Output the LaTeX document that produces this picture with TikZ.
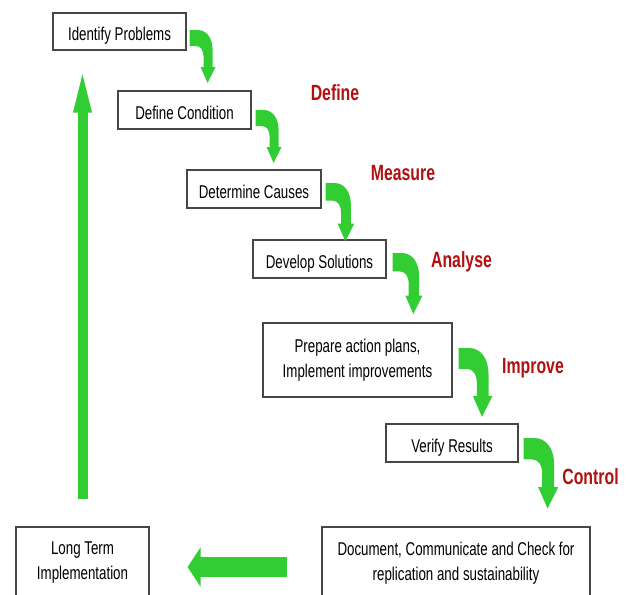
\documentclass[tikz,border=0pt]{standalone}
\usepackage{fontspec}
\setmainfont{Liberation Sans}[FakeStretch=0.72]
\usetikzlibrary{arrows.meta,calc}
\definecolor{arrowgreen}{RGB}{50,205,50}
\definecolor{phasered}{RGB}{176,16,16}
\definecolor{boxgray}{RGB}{70,70,70}
\tikzset{
    bendarrow/.pic={
        \fill[arrowgreen] (0,0) -- (8,0) .. controls (17,0) and (23,8) .. (23,20) -- (23,37) -- (26,37)
            -- (18,53) -- (11,37) -- (14,37) -- (14,27) .. controls (14,20) and (11,16) .. (6,16) -- (0,16) -- cycle;
    }
}
\begin{document}
\begin{tikzpicture}[x=1pt, y=-1pt,
        stepbox/.style={draw=boxgray, line width=1.2pt, fill=white, inner sep=0pt, align=center,
            font=\fontsize{18.5}{25}\selectfont},
        onerow/.style={text height=22pt, text depth=3.8pt},
        phase/.style={anchor=base, text=phasered, font=\fontsize{22}{26}\selectfont\bfseries},
        uparrow/.style={draw=arrowgreen, line width=10pt, -{Triangle[length=54pt, width=15pt]}},
        backarrow/.style={draw=arrowgreen, line width=20pt, -{Triangle[length=13pt, width=39pt]}}]
    \useasboundingbox (0,0) rectangle (630,595);

    \node[stepbox, onerow, minimum width=133, minimum height=37] at (119.5, 31.5) (ip)  {Identify Problems};
    \node[stepbox, onerow, minimum width=133, minimum height=38] at (184.5, 110)  (dc)  {Define Condition};
    \node[stepbox, onerow, minimum width=134, minimum height=38] at (254, 189)    (dt)  {Determine Causes};
    \node[stepbox, onerow, minimum width=133, minimum height=38] at (319.5, 259)  (ds)  {Develop Solutions};
    \node[stepbox, minimum width=189, minimum height=74] at (357.5, 360)  (pa)  {Prepare action plans,\\Implement improvements};
    \node[stepbox, onerow, minimum width=132, minimum height=38] at (452, 443)    (vr)  {Verify Results};
    \node[stepbox, minimum width=268, minimum height=72] at (456, 563)    (doc) {Document, Communicate and Check for\\replication and sustainability};
    \node[stepbox, minimum width=133, minimum height=72] at (82.5, 563)   (lt)  {Long Term\\Implementation};

    \node[phase] at (335, 100) (define)  {Define};
    \node[phase] at (403, 180) (measure) {Measure};
    \node[phase] at (461.5, 267) (analyse) {Analyse};
    \node[phase] at (533, 373) (improve) {Improve};
    \node[phase] at (590.5, 484) (control) {Control};

    % bent arrows down the steps
    \pic[scale=1]    at ([shift={(3,-1.5)}]ip.east) {bendarrow};
    \pic[scale=1]    at ([shift={(4,0)}]dc.east)    {bendarrow};
    \pic[scale=1.1]  at ([shift={(4,-6)}]dt.east)   {bendarrow};
    \pic[scale=1.15] at ([shift={(6,-6)}]ds.east)   {bendarrow};
    \pic[scale=1.3]  at ([shift={(6,-12)}]pa.east)  {bendarrow};
    \pic[scale=1.33] at ([shift={(5,-5)}]vr.east)   {bendarrow};

    % back to the start
    \coordinate (uptip) at (lt.north |- ip.south);
    \draw[backarrow] ([shift={(-34,4)}]doc.west) -- ([shift={(38,4)}]lt.east);
    \draw[uparrow] ([yshift=27pt]lt.north) -- ([yshift=-8pt]uptip);
\end{tikzpicture}
\end{document}
